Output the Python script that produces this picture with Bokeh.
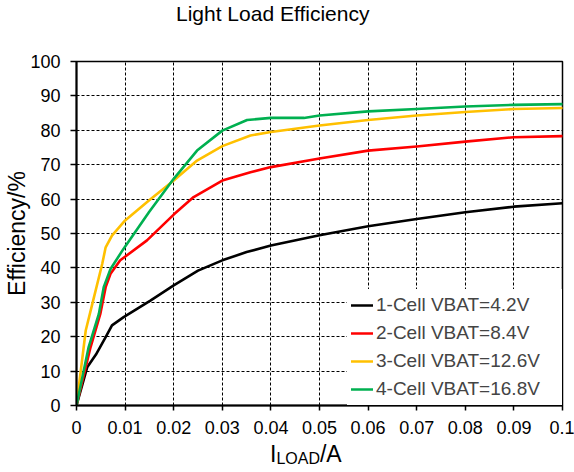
from bokeh.plotting import figure
from bokeh.models import Range1d, FixedTicker, Legend, Div
from bokeh.layouts import column
from bokeh.embed import file_html
from bokeh.resources import INLINE

# ---- data ----
x_ticks = [0, 0.01, 0.02, 0.03, 0.04, 0.05, 0.06, 0.07, 0.08, 0.09, 0.1]
x_tick_labels = ["0", "0.01", "0.02", "0.03", "0.04", "0.05", "0.06", "0.07", "0.08", "0.09", "0.1"]
y_ticks = [0, 10, 20, 30, 40, 50, 60, 70, 80, 90, 100]

cell1_x = [0, 0.0022, 0.004, 0.006, 0.0073, 0.0097, 0.0152, 0.02, 0.025, 0.03, 0.035, 0.04, 0.05, 0.06, 0.07, 0.08, 0.09, 0.1]
cell1_y = [0, 11.1, 14.8, 19.9, 23.3, 25.7, 30.5, 34.9, 39.2, 42.2, 44.6, 46.5, 49.5, 52.1, 54.2, 56.2, 57.8, 58.8]

cell2_x = [0, 0.0029, 0.0049, 0.006, 0.007, 0.009, 0.0145, 0.02, 0.0241, 0.03, 0.0358, 0.04, 0.05, 0.06, 0.07, 0.08, 0.09, 0.1]
cell2_y = [0, 17, 26.6, 34.4, 38.3, 42.2, 48, 55.5, 60.6, 65.4, 67.8, 69.3, 71.8, 74.1, 75.3, 76.7, 78, 78.3]

cell3_x = [0, 0.0019, 0.0036, 0.0053, 0.006, 0.0073, 0.01, 0.0149, 0.02, 0.0248, 0.03, 0.0358, 0.04, 0.05, 0.06, 0.07, 0.08, 0.09, 0.1]
cell3_y = [0, 21.8, 31.5, 41.2, 46, 49.4, 53.8, 59.6, 65.4, 71.2, 75.4, 78.5, 79.5, 81.4, 83, 84.3, 85.3, 86.2, 86.5]

cell4_x = [0, 0.0025, 0.0046, 0.0056, 0.007, 0.0097, 0.0149, 0.02, 0.0248, 0.03, 0.0351, 0.04, 0.0468, 0.05, 0.06, 0.07, 0.08, 0.09, 0.1]
cell4_y = [0, 17, 26.6, 34.4, 39.7, 45.6, 56.2, 65.9, 74.1, 79.9, 83, 83.6, 83.6, 84.3, 85.5, 86.2, 86.9, 87.4, 87.6]

series_names = ["1-Cell VBAT=4.2V", "2-Cell VBAT=8.4V", "3-Cell VBAT=12.6V", "4-Cell VBAT=16.8V"]
series_colors = ["#000000", "#FF0000", "#FFC000", "#00B050"]

title_text = "Light Load Efficiency"
FONT = "Liberation Sans"

# title as HTML text above the plot
title_div = Div(
    text=('<span style="font-family:\'Liberation Sans\'; font-size:21px; line-height:21px; '
          'color:black; white-space:nowrap">' + title_text + '</span>'),
    width=574, height=30,
    styles={"padding-left": "176px", "padding-top": "3px", "margin": "0"})

p = figure(width=574, height=412, title=None, output_backend="svg", toolbar_location=None,
           x_range=Range1d(0, 0.1), y_range=Range1d(0, 100),
           min_border_left=76, min_border_right=12, min_border_top=31, min_border_bottom=37)
p.background_fill_color = "white"
p.border_fill_color = "white"
p.outline_line_color = "black"
p.outline_line_width = 1.5

# grid
for g in (p.xgrid, p.ygrid):
    g.grid_line_color = "black"
    g.grid_line_dash = "3 2"
    g.grid_line_width = 1

# axes
p.xaxis.ticker = FixedTicker(ticks=x_ticks)
p.xaxis.major_label_overrides = {t: l for t, l in zip(x_ticks, x_tick_labels)}
p.yaxis.ticker = FixedTicker(ticks=y_ticks)
for ax in (p.xaxis, p.yaxis):
    ax.axis_line_color = "black"
    ax.axis_line_width = 2
    ax.major_tick_line_color = "black"
    ax.major_tick_line_width = 1.5
    ax.major_tick_in = 0
    ax.minor_tick_line_color = None
    ax.major_label_text_font = FONT
    ax.major_label_text_font_size = "18px"
    ax.major_label_text_color = "black"
p.xaxis.major_tick_out = 5
p.yaxis.major_tick_out = 6
p.xaxis.major_label_standoff = 10
p.yaxis.major_label_standoff = 10

p.yaxis.axis_label = "Efficiency/%"
p.yaxis.axis_label_text_font = FONT
p.yaxis.axis_label_text_font_size = "23px"
p.yaxis.axis_label_text_font_style = "normal"
p.yaxis.axis_label_text_color = "black"
p.yaxis.axis_label_standoff = -3

# lines
xs = [cell1_x, cell2_x, cell3_x, cell4_x]
ys = [cell1_y, cell2_y, cell3_y, cell4_y]
items = []
for xv, yv, name, col in zip(xs, ys, series_names, series_colors):
    r = p.line(xv, yv, line_color=col, line_width=2.6, line_join="round", line_cap="round")
    items.append((name, [r]))

legend = Legend(items=items, location="bottom_right", margin=0, padding=4,
                spacing=4, label_height=24, glyph_height=24, glyph_width=22,
                label_width=182, label_standoff=3,
                label_text_font=FONT, label_text_font_size="19px",
                background_fill_color="white", background_fill_alpha=1.0,
                border_line_alpha=0)
p.add_layout(legend, "center")

# x axis title with subscript, as HTML text below the plot
xlabel = Div(
    text=('<span style="font-family:\'Liberation Sans\'; font-size:23px; line-height:22px; color:black; white-space:nowrap">'
          'I<span style="font-size:16px; position:relative; top:2px">LOAD</span>/A</span>'),
    width=574, height=30,
    styles={"padding-left": "270px", "padding-top": "1px", "margin": "0"})

layout = column(title_div, p, xlabel, spacing=0)

open("out.html", "w").write(file_html(layout, INLINE))
